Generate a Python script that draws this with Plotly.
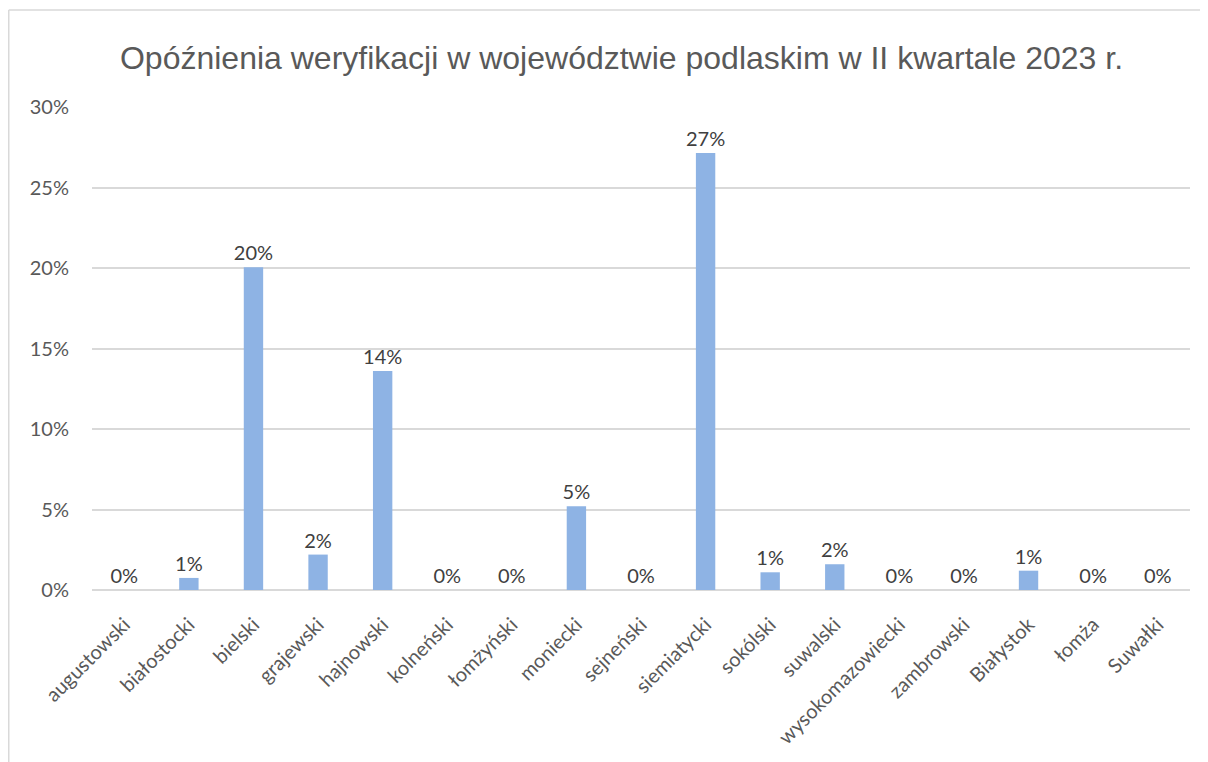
import plotly.graph_objects as go

categories = ["augustowski", "białostocki", "bielski", "grajewski", "hajnowski",
              "kolneński", "łomżyński", "moniecki", "sejneński", "siemiatycki",
              "sokólski", "suwalski", "wysokomazowiecki", "zambrowski",
              "Białystok", "łomża", "Suwałki"]
values = [0.0, 0.0075, 0.2005, 0.022, 0.136, 0.0, 0.0, 0.052, 0.0, 0.2715,
          0.011, 0.016, 0.0, 0.0, 0.012, 0.0, 0.0]
y_ticks = [0, 0.05, 0.10, 0.15, 0.20, 0.25, 0.30]
title_text = "Opóźnienia weryfikacji w województwie podlaskim w II kwartale 2023 r."

# page body has an 8px margin, so the figure is drawn 8px in from the window corner
W, H = 1200, 754
ml, mr, mt, mb = 84, 18, 99, 172
pw = W - ml - mr
ph = H - mt - mb

fig = go.Figure()
fig.add_trace(go.Bar(
    x=categories, y=values,
    marker=dict(color="#8EB3E4", line=dict(width=0)),
    text=[f"{v*100:.0f}%" for v in values],
    textposition="outside",
    constraintext="none",
    textfont=dict(family="Lato", size=20, color="#404040"),
    cliponaxis=False,
))

# chart-area border (light gray, left + top visible)
bx = (0.75 - ml) / pw
by = 1 + (mt - 2) / ph
fig.add_shape(type="line", xref="paper", yref="paper",
              x0=bx, x1=bx, y0=by, y1=-0.6,
              line=dict(color="#D9D9D9", width=1.5))
fig.add_shape(type="line", xref="paper", yref="paper",
              x0=bx, x1=1.3, y0=by, y1=by,
              line=dict(color="#D9D9D9", width=1.5))

fig.update_layout(
    width=W, height=H,
    margin=dict(l=ml, r=mr, t=mt, b=mb, autoexpand=False),
    paper_bgcolor="white", plot_bgcolor="white",
    bargap=0.70,
    showlegend=False,
    title=dict(text=title_text, x=613.5 / W, xref="container", xanchor="center",
               y=1 - 50 / H, yref="container", yanchor="middle",
               font=dict(family="Liberation Sans", size=32, color="#595959")),
    xaxis=dict(tickangle=-45, showline=False, ticks="",
               ticklabelstandoff=18,
               tickfont=dict(family="Lato", size=20, color="#595959")),
    yaxis=dict(range=[0, 0.30], tickvals=y_ticks, tickformat=".0%",
               showgrid=True, gridcolor="#D9D9D9", gridwidth=1.5,
               zeroline=True, zerolinecolor="#D9D9D9", zerolinewidth=1.5,
               showline=False, ticks="", ticklabelstandoff=22,
               tickfont=dict(family="Lato", size=20, color="#595959")),
)

fig.write_html("out.html")
